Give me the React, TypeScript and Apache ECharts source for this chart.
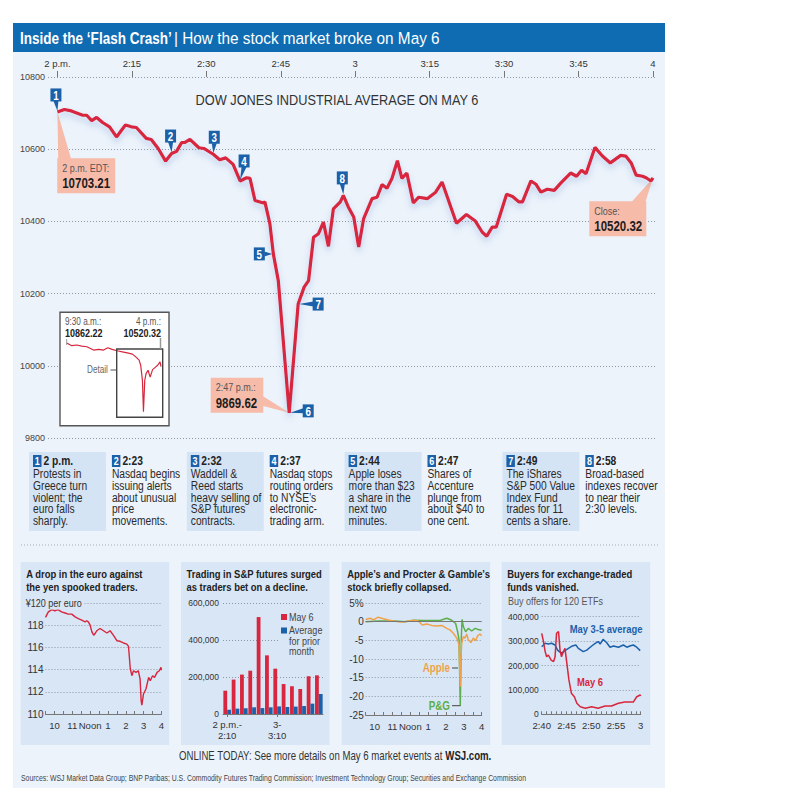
import React, { useEffect, useRef } from 'react';
import * as echarts from 'echarts';

// ---------- DATA ----------
// Dow Jones Industrial Average, May 6: [minutes after 2 p.m., index value]
const dowPoints: [number, number][] = [
  [0, 10703.21], [1.4, 10710], [2.8, 10706], [5.1, 10694], [5.9, 10694], [6.9, 10679], [7.9, 10688],
  [9.1, 10674], [10.5, 10662], [11.9, 10634], [13.7, 10667], [14.9, 10662], [15.9, 10660], [17.9, 10630],
  [18.9, 10627], [20.3, 10602], [21.8, 10567], [23.0, 10588], [24.0, 10594], [25.0, 10618], [25.7, 10619],
  [26.7, 10627], [28.5, 10604], [29.5, 10602], [31.4, 10586], [32.7, 10571], [33.9, 10576], [35.4, 10558],
  [36.8, 10512], [38.1, 10521], [38.8, 10519], [39.8, 10458], [41.5, 10451], [41.8, 10454], [42.8, 10394],
  [43.5, 10310], [44.5, 10236], [46.7, 9869.62], [48.5, 10171], [49.7, 10218], [50.6, 10236], [51.6, 10356],
  [52.6, 10366], [53.6, 10398], [54.6, 10331], [55.6, 10435], [57.0, 10454], [57.6, 10472], [58.6, 10440],
  [59.7, 10412], [60.7, 10329], [61.7, 10408], [63.4, 10463], [64.4, 10467], [65.4, 10502], [66.4, 10492],
  [67.4, 10519], [68.5, 10568], [69.4, 10519], [70.4, 10534], [71.7, 10451], [72.8, 10467], [74.5, 10463],
  [76.2, 10481], [77.5, 10509], [78.8, 10458], [80.4, 10395], [82.4, 10419], [84.2, 10401], [85.6, 10370],
  [86.5, 10359], [87.6, 10384], [88.4, 10384], [90.5, 10475], [91.7, 10469], [93.0, 10454], [93.7, 10454],
  [95.4, 10512], [96.4, 10503], [97.4, 10481], [98.7, 10489], [100.1, 10486], [101.4, 10506], [103.4, 10534],
  [104.6, 10525], [105.6, 10542], [106.5, 10532], [108.3, 10605], [109.8, 10581], [111.4, 10562],
  [113.5, 10583], [114.5, 10581], [115.6, 10562], [116.6, 10528], [117.9, 10525], [118.6, 10521],
  [119.6, 10512], [120, 10520.32],
];
const mainTickValues = [0, 15, 30, 45, 60, 75, 90, 105, 120];
const mainTickLabels = ['2 p.m.', '2:15', '2:30', '2:45', '3', '3:15', '3:30', '3:45', '4'];

// numbered events: minutes after 2 p.m.
const eventNumbers = [1, 2, 3, 4, 5, 6, 7, 8];
const eventMinutes = [0, 23, 31.4, 36.8, 43.5, 46.7, 48.5, 57.6];
const eventTimes = ['2 p.m.', '2:23', '2:32', '2:37', '2:44', '2:47', '2:49', '2:58'];
const eventTexts = [
  'Protests in\nGreece turn\nviolent; the\neuro falls\nsharply.',
  'Nasdaq begins\nissuing alerts\nabout unusual\nprice\nmovements.',
  'Waddell &\nReed starts\nheavy selling of\nS&P futures\ncontracts.',
  'Nasdaq stops\nrouting orders\nto NYSE\u2019s\nelectronic-\ntrading arm.',
  'Apple loses\nmore than $23\na share in the\nnext two\nminutes.',
  'Shares of\nAccenture\nplunge from\nabout $40 to\none cent.',
  'The iShares\nS&P 500 Value\nIndex Fund\ntrades for 11\ncents a share.',
  'Broad-based\nindexes recover\nto near their\n2:30 levels.',
];

// callouts: [minutes, value]
const calloutTitles = ['2 p.m. EDT:', 'Close:', '2:47 p.m.:'];
const calloutPoints: [number, number][] = [[0, 10703.21], [120, 10520.32], [46.7, 9869.62]];

// full-day inset: [hour, value]
const insetPoints: [number, number][] = [
  [9.5, 10862.22], [9.85, 10823], [10.2, 10833], [10.54, 10818], [10.89, 10808], [11.35, 10760],
  [11.7, 10770], [12.05, 10760], [12.33, 10793], [12.63, 10770], [12.98, 10750], [13.33, 10735],
  [13.68, 10720], [14.03, 10701], [14.26, 10662], [14.49, 10614], [14.6, 10541], [14.72, 10322],
  [14.79, 9869.62], [14.88, 10322], [14.97, 10420], [15.11, 10468], [15.25, 10370], [15.42, 10478],
  [15.58, 10507], [15.77, 10541], [15.93, 10589], [16, 10520.32],
];

// euro vs yen: [hour, yen per euro]
const euroPoints: [number, number][] = [
  [9.5, 118.7], [9.66, 119.2], [9.85, 119.4], [10.03, 119.3], [10.2, 119.4], [10.4, 119.2], [10.6, 119.1],
  [10.78, 119.0], [10.97, 119.0], [11.16, 118.75], [11.34, 118.6], [11.53, 118.45], [11.72, 118.3],
  [11.81, 118.4], [11.9, 118.3], [12.0, 118.0], [12.1, 117.4], [12.2, 117.1], [12.28, 117.25], [12.37, 117.5],
  [12.56, 117.7], [12.75, 117.5], [12.94, 117.3], [13.12, 117.5], [13.3, 117.1], [13.5, 116.6],
  [13.68, 116.55], [13.87, 116.4], [14.06, 116.3], [14.15, 116.1], [14.25, 114.1], [14.34, 113.45],
  [14.43, 113.9], [14.57, 113.75], [14.7, 113.9], [14.8, 113.15], [14.86, 111.2], [14.9, 110.8],
  [14.99, 111.8], [15.13, 112.25], [15.28, 113.3], [15.37, 113.0], [15.5, 113.45], [15.61, 113.3],
  [15.75, 113.75], [15.88, 113.9], [15.97, 114.2], [16.0, 113.95],
];
const hourLabels: Record<string, string> = { '10': '10', '11': '11', '12': 'Noon', '13': '1', '14': '2', '15': '3', '16': '4' };

// S&P futures volume per 10 minutes
const futuresCategories = ['2:00', '2:10', '2:20', '2:30', '2:40', '2:50', '3:00', '3:10', '3:20', '3:30', '3:40', '3:50'];
const futuresMay6 = [126000, 186000, 213000, 234000, 524000, 317000, 245000, 162000, 150000, 135000, 204000, 209000];
const futuresAvg = [23000, 29000, 31000, 36000, 32000, 36000, 41000, 38000, 40000, 43000, 56000, 108000];

// Apple and P&G: [hour, % change]
const applePoints: [number, number][] = [
  [9.5, 0.6], [9.74, 0.9], [9.93, 0.5], [10.2, 1.2], [10.49, 0.8], [10.77, 0.45], [11.05, 0.2], [11.33, 0],
  [11.6, -0.1], [11.89, 0.2], [12.17, 0.35], [12.45, 0.2], [12.67, -0.9], [12.92, -0.6], [13.2, -1.0],
  [13.48, -1.15], [13.76, -1.0], [14.04, -1.8], [14.22, -2.2], [14.41, -3.1], [14.6, -4.4], [14.73, -6.2],
  [14.8, -17.4], [14.84, -9.4], [14.88, -5.8], [14.97, -4.0], [15.06, -4.4], [15.16, -3.3], [15.25, -4.9],
  [15.4, -5.6], [15.53, -4.4], [15.66, -5.1], [15.77, -3.8], [15.9, -3.3], [16, -3.8],
];
const pgPoints: [number, number][] = [
  [9.5, 0], [10.2, 0.2], [11.1, 0.2], [11.7, 0], [12.2, 0.4], [12.7, 0.3], [13.3, 0.3], [13.7, 0.4],
  [14.04, 0.9], [14.3, 0.45], [14.54, -0.5], [14.65, -2.7], [14.73, -4.9], [14.8, -22.5], [14.86, -4.0],
  [14.9, 0.6], [14.97, -1.3], [15.1, -2.7], [15.25, -1.8], [15.44, -2.5], [15.63, -1.8], [15.8, -2.1],
  [16, -2.3],
];

// ETF buy offers: [minutes after 2:40, offers]
const etfAvgPoints: [number, number][] = [
  [0, 277000], [0.7, 291000], [1.35, 288000], [2.0, 291000], [2.7, 284000], [3.2, 263000], [4.0, 250000],
  [4.7, 261000], [5.4, 270000], [6.2, 280000], [6.9, 284000], [7.4, 270000], [8.4, 257000], [9.1, 263000],
  [10.1, 280000], [10.8, 291000], [11.4, 298000], [11.8, 288000], [12.4, 307000], [13.1, 294000],
  [13.8, 275000], [14.5, 280000], [15.5, 275000], [16.5, 284000], [17.2, 275000], [17.8, 280000],
  [18.5, 284000], [19.2, 275000], [19.9, 261000],
];
const etfMay6Points: [number, number][] = [
  [0, 332000], [0.3, 304000], [0.7, 257000], [1.0, 236000], [1.35, 243000], [1.9, 222000], [2.4, 216000],
  [2.7, 236000], [3.0, 332000], [3.4, 339000], [3.7, 263000], [4.0, 236000], [4.4, 257000], [4.7, 270000],
  [5.0, 222000], [5.5, 141000], [6.0, 86000], [6.6, 72000], [7.1, 45000], [7.8, 31000], [8.8, 25000],
  [10.1, 31000], [11.4, 25000], [12.8, 34000], [14.1, 34000], [15.5, 45000], [16.8, 50000], [18.5, 50000],
  [19.2, 72000], [19.9, 79000], [20, 75000],
];
const etfLabels: Record<string, string> = { '0': '2:40', '5': '2:45', '10': '2:50', '15': '2:55', '20': '3' };

// ---------- STYLE ----------
const FONT = "'Liberation Sans', Arial, sans-serif";
const NARROW = 0.82;
const RED = '#d7263d';
const BLUE = '#1b61aa';
const PINK = '#f7bba9';
const PANEL = '#ecf3fb';
const BOX = '#d5e4f5';
const SMALL = '#d9e6f6';
const DOT = '#8d98a4';
const ORANGE = '#f0a24a';
const GREEN = '#5cae4a';

// pixel offsets of number badges relative to their point: [dx, dy, pointer]
const markerLayout: [number, number, string][] = [
  [-1.5, -17, 'down'], [-1, -17.5, 'down'], [1, -17, 'down'], [4, -20, 'down'],
  [-14, 0, 'right'], [19, -2, 'left'], [20, 0, 'left'], [-1, -17.5, 'down'],
];
const calloutLayout = [
  { dx: -0.2, dy: 46.4, w: 58, h: 35, wedge: 'topLeft' },
  { dx: -63.7, dy: 23.3, w: 57, h: 35, wedge: 'topRight' },
  { dx: -78.5, dy: -35.2, w: 52.6, h: 35, wedge: 'right' },
];

function valueAt(t: number): number {
  for (let i = 1; i < dowPoints.length; i++) {
    const [t0, v0] = dowPoints[i - 1];
    const [t1, v1] = dowPoints[i];
    if (t <= t1) return v0 + ((t - t0) / (t1 - t0 || 1)) * (v1 - v0);
  }
  return dowPoints[dowPoints.length - 1][1];
}

const txt = (x: number, y: number, text: string, font: string, fill: string, align = 'left', sx = NARROW, extra: any = {}) => ({
  type: 'text', x, y, z: 20, scaleX: sx,
  style: { text, font, fill, align, textAlign: align, verticalAlign: 'middle', textVerticalAlign: 'middle', ...extra },
});

function buildOption(): any {
  const graphics: any[] = [];
  // panels
  graphics.push({ type: 'rect', z: -10, shape: { x: 13, y: 52, width: 652, height: 736 }, style: { fill: PANEL } });
  graphics.push({ type: 'rect', z: -10, shape: { x: 13, y: 23, width: 652, height: 29 }, style: { fill: '#0f6cb3' } });
  graphics.push(txt(20, 38, 'Inside the \u2018Flash Crash\u2019', `bold 16.5px ${FONT}`, '#fff', 'left', 0.82));
  graphics.push(txt(174, 38, '| How the stock market broke on May 6', `16.5px ${FONT}`, '#fff', 'left', 0.93));
  graphics.push(txt(337, 100, 'DOW JONES INDUSTRIAL AVERAGE ON MAY 6', `14.5px ${FONT}`, '#333', 'center', 0.88));

  // inset
  graphics.push({ type: 'rect', z: 1, shape: { x: 60, y: 312.3, width: 109, height: 113.4 }, style: { fill: '#fff', stroke: '#555', lineWidth: 1.4 } });
  graphics.push({ type: 'rect', z: 6, shape: { x: 116.7, y: 349, width: 46, height: 68.3 }, style: { fill: 'none', stroke: '#444', lineWidth: 1.4 } });
  graphics.push(txt(65, 322, '9:30 a.m.:', `10px ${FONT}`, '#555'));
  graphics.push(txt(65, 333, '10862.22', `bold 11px ${FONT}`, '#222'));
  graphics.push(txt(161, 322, '4 p.m.:', `10px ${FONT}`, '#555', 'right'));
  graphics.push(txt(161, 333, '10520.32', `bold 11px ${FONT}`, '#222', 'right'));
  graphics.push({ type: 'line', z: 6, shape: { x1: 66.7, y1: 339, x2: 66.7, y2: 345 }, style: { stroke: '#999', lineWidth: 1 } });
  graphics.push({ type: 'line', z: 6, shape: { x1: 160.5, y1: 338, x2: 160.5, y2: 349 }, style: { stroke: '#999', lineWidth: 1.5 } });
  graphics.push(txt(87, 370, 'Detail', `10px ${FONT}`, '#666'));
  graphics.push({ type: 'line', z: 6, shape: { x1: 110.5, y1: 370, x2: 116.7, y2: 370 }, style: { stroke: '#555', lineWidth: 1 } });

  // annotations row
  for (let i = 0; i < 8; i++) {
    const cx = 29 + i * 78.9;
    if (i % 2 === 0) graphics.push({ type: 'rect', z: -5, shape: { x: cx, y: 452, width: 77, height: 79 }, style: { fill: BOX } });
    graphics.push({ type: 'rect', z: 10, shape: { x: cx + 4, y: 455, width: 8.5, height: 12 }, style: { fill: BLUE } });
    graphics.push(txt(cx + 8.25, 461.5, String(eventNumbers[i]), `bold 11px ${FONT}`, '#fff', 'center'));
    graphics.push(txt(cx + 14.5, 461, eventTimes[i], `bold 12.5px ${FONT}`, '#222'));
    graphics.push({
      type: 'text', x: cx + 4, y: 468, z: 20, scaleX: NARROW,
      style: { text: eventTexts[i], font: `12.5px ${FONT}`, fill: '#2a2a2a', lineHeight: 11.7, verticalAlign: 'top', textVerticalAlign: 'top' },
    });
  }
  graphics.push({ type: 'line', z: -5, shape: { x1: 21, y1: 545, x2: 660, y2: 545 }, style: { stroke: '#a4adb8', lineWidth: 1, lineDash: [1, 2] } });

  // small panels
  const px = [20.7, 181, 341.7, 501.7];
  const titles = [
    ['A drop in the euro against', 'the yen spooked traders.'],
    ['Trading in S&P futures surged', 'as traders bet on a decline.'],
    ['Apple\u2019s and Procter & Gamble\u2019s', 'stock briefly collapsed.'],
    ['Buyers for exchange-traded', 'funds vanished.'],
  ];
  px.forEach((x, i) => {
    graphics.push({ type: 'rect', z: -5, shape: { x, y: 562, width: 148.5, height: 183 }, style: { fill: SMALL } });
    graphics.push(txt(x + 5.5, 574, titles[i][0], `bold 11.5px ${FONT}`, '#222'));
    graphics.push(txt(x + 5.5, 587, titles[i][1], `bold 11.5px ${FONT}`, '#222'));
  });
  graphics.push(txt(25.7, 603, '\u00a5120 per euro', `11px ${FONT}`, '#333', 'left', NARROW, { backgroundColor: SMALL, padding: [1, 3, 1, 0] }));
  // futures legend
  graphics.push({ type: 'rect', z: 5, shape: { x: 279, y: 610, width: 44, height: 47 }, style: { fill: SMALL } });
  graphics.push({ type: 'rect', z: 10, shape: { x: 281, y: 614, width: 6, height: 6 }, style: { fill: RED } });
  graphics.push(txt(289, 617, 'May 6', `11px ${FONT}`, '#444'));
  graphics.push({ type: 'rect', z: 10, shape: { x: 281, y: 627.5, width: 6, height: 6 }, style: { fill: BLUE } });
  graphics.push(txt(289, 630.5, 'Average', `11px ${FONT}`, '#444'));
  graphics.push(txt(289, 641, 'for prior', `11px ${FONT}`, '#444'));
  graphics.push(txt(289, 651.5, 'month', `11px ${FONT}`, '#444'));
  // apple / pg labels
  graphics.push(txt(450, 668, 'Apple', `bold 12px ${FONT}`, ORANGE, 'right'));
  graphics.push({ type: 'line', z: 10, shape: { x1: 452, y1: 668, x2: 458, y2: 668 }, style: { stroke: '#444', lineWidth: 1 } });
  graphics.push(txt(450, 705.7, 'P&G', `bold 12px ${FONT}`, GREEN, 'right'));
  graphics.push({ type: 'line', z: 10, shape: { x1: 452, y1: 705.7, x2: 460.5, y2: 705.7 }, style: { stroke: '#444', lineWidth: 1 } });
  // etf labels
  graphics.push(txt(508, 601, 'Buy offers for 120 ETFs', `11px ${FONT}`, '#555'));
  graphics.push(txt(606, 629, 'May 3-5 average', `bold 11.5px ${FONT}`, BLUE, 'center'));
  graphics.push(txt(590, 682, 'May 6', `bold 11.5px ${FONT}`, RED, 'center'));

  // footer
  graphics.push({
    type: 'text', x: 335, y: 756, z: 20, scaleX: 0.77,
    style: {
      text: '{r|ONLINE TODAY: See more details on May 6 market events at }{b|WSJ.com.}',
      align: 'center', textAlign: 'center', verticalAlign: 'middle', textVerticalAlign: 'middle',
      rich: {
        r: { fontFamily: FONT, fontSize: 12.5, fill: '#333', color: '#333' },
        b: { fontFamily: FONT, fontSize: 12.5, fontWeight: 'bold', fill: '#222', color: '#222' },
      },
    },
  });
  graphics.push(txt(21, 778, 'Sources: WSJ Market Data Group; BNP Paribas; U.S. Commodity Futures Trading Commission; Investment Technology Group; Securities and Exchange Commission', `8.5px ${FONT}`, '#444', 'left', 0.81));

  const axisLbl = { fontFamily: FONT, color: '#333', fontSize: 9 };
  const dotted = { show: true, lineStyle: { color: DOT, width: 1, type: [1, 2] } };
  const hourAxis = (gi: number) => ({
    gridIndex: gi, type: 'value', min: 9.5, max: 16, interval: 0.5,
    axisLine: { show: true, onZero: false, lineStyle: { color: '#777' } },
    axisTick: { show: true, inside: true, length: 3, lineStyle: { color: '#777' } },
    axisLabel: { ...axisLbl, fontSize: 9.5, margin: 6, formatter: (v: number) => hourLabels[String(v)] || '' },
    splitLine: { show: false },
  });

  return {
    animation: false,
    backgroundColor: '#fff',
    textStyle: { fontFamily: FONT },
    grid: [
      { left: 48, top: 77, width: 607, height: 361, outerBoundsMode: 'none' },
      { left: 66.7, top: 343, width: 94.3, height: 68.7, outerBoundsMode: 'none' },
      { left: 45.5, top: 603, width: 116, height: 111, outerBoundsMode: 'none' },
      { left: 223, top: 603, width: 100, height: 111, outerBoundsMode: 'none' },
      { left: 365.7, top: 603, width: 116, height: 112, outerBoundsMode: 'none' },
      { left: 541.7, top: 616.7, width: 99, height: 97.6, outerBoundsMode: 'none' },
    ],
    xAxis: [
      {
        gridIndex: 0, type: 'value', min: -1.9, max: 120.4, position: 'top',
        axisLine: { show: false },
        axisTick: { show: true, customValues: mainTickValues, length: 6, lineStyle: { color: '#777' } },
        axisLabel: {
          customValues: mainTickValues, margin: 9, fontFamily: FONT, fontSize: 9.5, color: '#333',
          formatter: (v: number) => mainTickLabels[mainTickValues.indexOf(Math.round(v))] ?? '',
        },
        splitLine: { show: false },
      },
      { gridIndex: 1, type: 'value', min: 9.5, max: 16, show: false },
      hourAxis(2),
      {
        gridIndex: 3, type: 'category', data: futuresCategories,
        axisLine: { show: true, lineStyle: { color: '#777' } },
        axisTick: { show: true, alignWithLabel: true, length: 3, interval: (i: number) => i === 0 || i === 6, lineStyle: { color: '#777' } },
        axisLabel: {
          ...axisLbl, fontSize: 9.5, interval: 0, margin: 5, lineHeight: 11,
          formatter: (_v: string, i: number) => (i === 0 ? '2 p.m.-\n2:10' : i === 6 ? '3-\n3:10' : ''),
        },
      },
      hourAxis(4),
      {
        gridIndex: 5, type: 'value', min: 0, max: 20, interval: 1,
        axisLine: { show: true, lineStyle: { color: '#777' } },
        axisTick: { show: true, inside: true, length: 3, lineStyle: { color: '#777' } },
        axisLabel: { ...axisLbl, fontSize: 9.5, margin: 6, formatter: (v: number) => etfLabels[String(v)] ?? '' },
        splitLine: { show: false },
      },
    ],
    yAxis: [
      {
        gridIndex: 0, type: 'value', min: 9800, max: 10800, interval: 200,
        axisLine: { show: false }, axisTick: { show: false },
        axisLabel: { fontFamily: FONT, fontSize: 9, color: '#444', margin: 3, formatter: (v: number) => String(v) },
        splitLine: dotted,
      },
      { gridIndex: 1, type: 'value', min: 9869.62, max: 10862.22, show: false },
      {
        gridIndex: 2, type: 'value', min: 110, max: 120, interval: 2,
        axisLine: { show: false }, axisTick: { show: false },
        axisLabel: { ...axisLbl, fontSize: 10, margin: 2, formatter: (v: number) => (v === 120 ? '' : String(v)) },
        splitLine: dotted,
      },
      {
        gridIndex: 3, type: 'value', min: 0, max: 600000, interval: 200000,
        axisLine: { show: false }, axisTick: { show: false },
        axisLabel: { ...axisLbl, fontSize: 8.5, margin: 4, formatter: (v: number) => v.toLocaleString('en-US') },
        splitLine: dotted,
      },
      {
        gridIndex: 4, type: 'value', min: -25, max: 5, interval: 5,
        axisLine: { show: false }, axisTick: { show: false },
        axisLabel: { ...axisLbl, fontSize: 10, margin: 2, formatter: (v: number) => (v === 5 ? '5%' : String(v)) },
        splitLine: dotted,
      },
      {
        gridIndex: 5, type: 'value', min: 0, max: 400000, interval: 100000,
        axisLine: { show: false }, axisTick: { show: false },
        axisLabel: { ...axisLbl, fontSize: 8.5, margin: 3, formatter: (v: number) => v.toLocaleString('en-US') },
        splitLine: dotted,
      },
    ],
    series: [
      {
        type: 'custom', xAxisIndex: 0, yAxisIndex: 0, z: 2, clip: false, silent: true,
        data: calloutPoints.map((p) => [p[0], p[1]]),
        renderItem: (params: any, api: any) => {
          const i = params.dataIndex;
          const p = api.coord([api.value(0), api.value(1)]);
          const L = calloutLayout[i];
          const bx = p[0] + L.dx, by = p[1] + L.dy;
          let wedge: number[][];
          if (L.wedge === 'topLeft') wedge = [p, [bx + 1, by + 1], [bx + 14, by + 1]];
          else if (L.wedge === 'topRight') wedge = [p, [bx + L.w - 15, by + 1], [bx + L.w - 1, by + 1]];
          else wedge = [p, [bx + L.w - 1, by + 18], [bx + L.w - 1, by + 28]];
          return {
            type: 'group',
            children: [
              { type: 'polygon', shape: { points: wedge }, style: { fill: PINK } },
              { type: 'rect', shape: { x: bx, y: by, width: L.w, height: L.h }, style: { fill: PINK } },
              { type: 'text', x: bx + 5, y: by + 10, scaleX: NARROW, style: { x: 0, y: 0, text: calloutTitles[i], fill: '#555', font: `11px ${FONT}`, verticalAlign: 'middle', textVerticalAlign: 'middle' } },
              { type: 'text', x: bx + 5, y: by + 25, scaleX: NARROW, style: { x: 0, y: 0, text: Number(api.value(1)).toFixed(2), fill: '#1e1e1e', font: `bold 14px ${FONT}`, verticalAlign: 'middle', textVerticalAlign: 'middle' } },
            ],
          };
        },
      },
      {
        type: 'line', xAxisIndex: 0, yAxisIndex: 0, z: 3, data: dowPoints, symbol: 'none', silent: true,
        lineStyle: { color: RED, width: 3.2, shadowColor: 'rgba(90,130,200,0.35)', shadowBlur: 6, shadowOffsetY: 4 },
      },
      {
        type: 'custom', xAxisIndex: 0, yAxisIndex: 0, z: 4, clip: false, silent: true,
        data: eventMinutes.map((t, i) => [t, valueAt(t), eventNumbers[i]]),
        renderItem: (params: any, api: any) => {
          const i = params.dataIndex;
          const p = api.coord([api.value(0), api.value(1)]);
          const [dx, dy, dir] = markerLayout[i];
          const cx = p[0] + dx, cy = p[1] + dy;
          const w = 11, h = 13;
          let tri: number[][];
          if (dir === 'down') tri = [[cx - 2.5, cy + h / 2 - 0.5], [cx + 2.5, cy + h / 2 - 0.5], [p[0], p[1] - 1]];
          else if (dir === 'right') tri = [[cx + w / 2 - 0.5, cy - 2.5], [cx + w / 2 - 0.5, cy + 2.5], [p[0] - 1, p[1]]];
          else tri = [[cx - w / 2 + 0.5, cy - 2.5], [cx - w / 2 + 0.5, cy + 2.5], [p[0] + 1, p[1]]];
          return {
            type: 'group',
            children: [
              { type: 'polygon', shape: { points: tri }, style: { fill: BLUE } },
              { type: 'rect', shape: { x: cx - w / 2, y: cy - h / 2, width: w, height: h }, style: { fill: BLUE } },
              { type: 'text', x: cx, y: cy + 0.5, scaleX: NARROW, style: { x: 0, y: 0, text: String(api.value(2)), fill: '#fff', font: `bold 12px ${FONT}`, align: 'center', textAlign: 'center', verticalAlign: 'middle', textVerticalAlign: 'middle' } },
            ],
          };
        },
      },
      {
        type: 'line', xAxisIndex: 1, yAxisIndex: 1, z: 5, data: insetPoints, symbol: 'none', silent: true,
        lineStyle: { color: RED, width: 1.2 },
      },
      {
        type: 'line', xAxisIndex: 2, yAxisIndex: 2, data: euroPoints, symbol: 'none', silent: true,
        lineStyle: { color: RED, width: 1.4 },
      },
      {
        type: 'bar', xAxisIndex: 3, yAxisIndex: 3, data: futuresMay6, barWidth: 3.8, barGap: '0%', silent: true,
        itemStyle: { color: RED },
      },
      {
        type: 'bar', xAxisIndex: 3, yAxisIndex: 3, data: futuresAvg, barWidth: 3.8, barGap: '0%', silent: true,
        itemStyle: { color: BLUE },
      },
      {
        type: 'line', xAxisIndex: 4, yAxisIndex: 4, data: pgPoints, symbol: 'none', silent: true,
        lineStyle: { color: GREEN, width: 1.5 },
        markLine: {
          silent: true, symbol: 'none', label: { show: false },
          lineStyle: { color: '#777', width: 1.2, type: 'solid' }, data: [{ yAxis: 0 }],
        },
      },
      {
        type: 'line', xAxisIndex: 4, yAxisIndex: 4, data: applePoints, symbol: 'none', silent: true,
        lineStyle: { color: ORANGE, width: 1.5 },
      },
      {
        type: 'line', xAxisIndex: 5, yAxisIndex: 5, data: etfAvgPoints, symbol: 'none', silent: true,
        lineStyle: { color: BLUE, width: 1.5 },
      },
      {
        type: 'line', xAxisIndex: 5, yAxisIndex: 5, data: etfMay6Points, symbol: 'none', silent: true,
        lineStyle: { color: RED, width: 1.5 },
      },
    ],
    graphic: { elements: graphics },
  };
}

export default function App() {
  const ref = useRef<HTMLDivElement>(null);
  useEffect(() => {
    if (!ref.current) return;
    const chart = echarts.init(ref.current, undefined, { renderer: 'svg' });
    chart.setOption(buildOption());
    return () => chart.dispose();
  }, []);
  return <div ref={ref} style={{ position: 'fixed', left: 0, top: 0, width: 800, height: 800, background: '#fff' }} />;
}
